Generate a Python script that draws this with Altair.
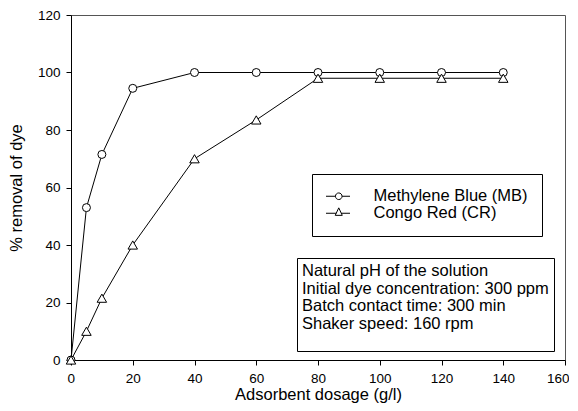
import altair as alt
import pandas as pd

# ---- data ----
dosage = [0, 5, 10, 20, 40, 60, 80, 100, 120, 140]
mb_removal = [0, 53, 71.5, 94.5, 100, 100, 100, 100, 100, 100]
cr_removal = [0, 10, 21.5, 40, 70, 83.5, 98, 98, 98, 98]
series_names = ["Methylene Blue (MB)", "Congo Red (CR)"]
info_lines = [
    "Natural pH of the solution",
    "Initial dye concentration: 300 ppm",
    "Batch contact time: 300 min",
    "Shaker speed: 160 rpm",
]
x_ticks = [0, 20, 40, 60, 80, 100, 120, 140, 160]
y_ticks = [0, 20, 40, 60, 80, 100, 120]

rows = []
for name, vals in zip(series_names, [mb_removal, cr_removal]):
    for d, v in zip(dosage, vals):
        rows.append({"dosage": d, "removal": v, "series": name})
df = pd.DataFrame(rows)
info_df = pd.DataFrame({"info": [" "]})

FONT = "Liberation Sans"
TXT = 16.5

# legend symbols: short line with an open marker on it
mb_path = ("M-1.1,0H0.16A0.44,0.44 0 1,1 1.04,0A0.44,0.44 0 1,1 0.16,0"
           "M1.04,0H2.1")
cr_path = ("M-1.1,0H0.26M0.13,0.28L0.6,-0.72L1.07,0.28Z"
           "M0.94,0H2.1")

x_enc = alt.X(
    "dosage:Q",
    scale=alt.Scale(domain=[0, 160], nice=False),
    axis=alt.Axis(values=x_ticks, title="Adsorbent dosage (g/l)",
                  labelPadding=6, titlePadding=2,
                  labelFlush=True, labelFlushOffset=4),
)
y_enc = alt.Y(
    "removal:Q",
    scale=alt.Scale(domain=[0, 120], nice=False),
    axis=alt.Axis(values=y_ticks, title="% removal of dye",
                  labelPadding=6, titlePadding=13, labelFlush=False),
)

base = alt.Chart(df).encode(x=x_enc, y=y_enc)

lines = base.mark_line(color="black", strokeWidth=1).encode(detail="series:N")

mb_points = base.transform_filter(
    alt.datum.series == series_names[0]
).mark_point(shape="circle", filled=True, fill="white", stroke="black",
             strokeWidth=1, size=64, opacity=1)

cr_points = base.transform_filter(
    alt.datum.series == series_names[1]
).mark_point(shape="triangle-up", filled=True, fill="white", stroke="black",
             strokeWidth=1, size=90, opacity=1)

legend_layer = base.mark_point(opacity=0).encode(
    shape=alt.Shape(
        "series:N",
        scale=alt.Scale(domain=series_names, range=[mb_path, cr_path]),
        legend=alt.Legend(
            title=None, orient="none", legendX=241, legendY=159,
            strokeColor="black", fillColor="white", padding=14,
            symbolSize=225, symbolStrokeWidth=1, symbolFillColor="white",
            symbolStrokeColor="black", symbolOpacity=1,
            labelFont=FONT, labelFontSize=TXT, labelColor="black",
            labelOffset=31, rowPadding=0,
        ),
    )
)

# info box: a legend whose (multi-line) title carries the text
info_layer = alt.Chart(info_df).mark_point(opacity=0).encode(
    color=alt.Color(
        "info:N",
        scale=alt.Scale(domain=[" "], range=["white"]),
        legend=alt.Legend(
            title=info_lines, orient="none", legendX=226, legendY=243,
            strokeColor="black", fillColor="white", padding=5,
            titleFont=FONT, titleFontSize=TXT, titleFontWeight="normal",
            titleColor="black", titleLineHeight=17.7, titleLimit=500,
            titleAnchor="start", titleAlign="left", titlePadding=12,
            symbolSize=0, symbolOpacity=0, symbolStrokeWidth=0,
            labelFontSize=1, labelOpacity=0, labelOffset=0,
        ),
    )
)

chart = alt.layer(lines, mb_points, cr_points, legend_layer, info_layer).properties(
    width=494,
    height=345,
    padding={"left": 0, "top": 0, "right": 0, "bottom": 0},
).configure_axis(
    labelFont=FONT, labelFontSize=13.5, labelColor="black",
    titleFont=FONT, titleFontSize=TXT, titleColor="black", titleFontWeight="normal",
    domainColor="black", tickColor="black", tickSize=5, grid=False,
).configure_view(
    stroke="#555555", strokeWidth=1,
)

chart.save("out.html", embed_options={"renderer": "svg", "actions": False})
